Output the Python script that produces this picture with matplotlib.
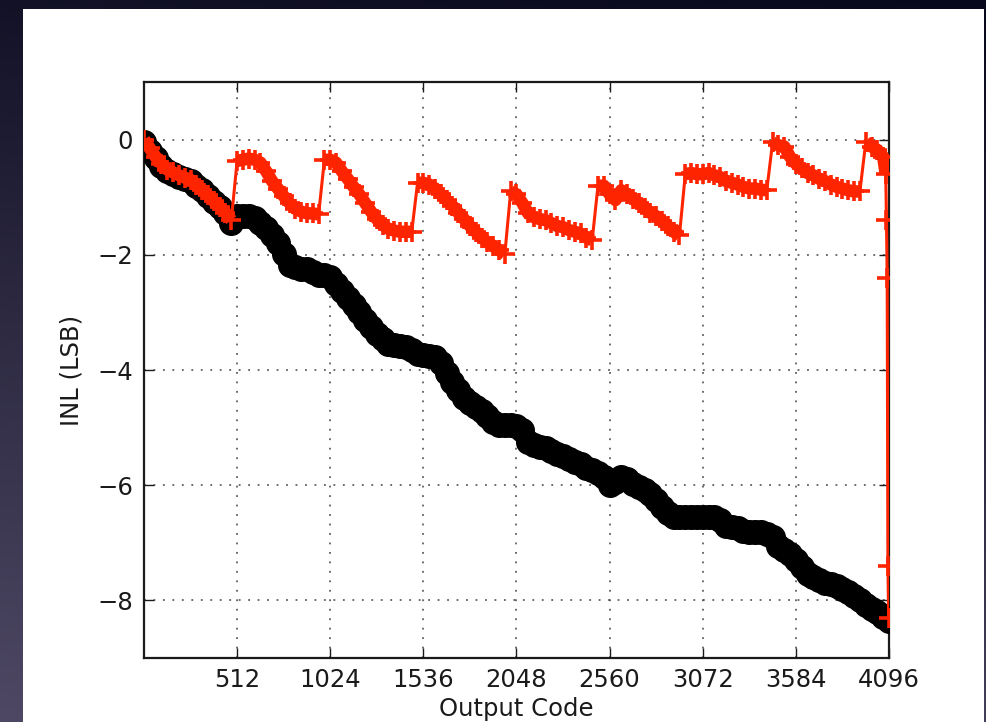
import numpy as np
import matplotlib
matplotlib.use("Agg")
import matplotlib.pyplot as plt
from matplotlib.patches import Rectangle

# ---- data ----
codes = list(range(0, 4097, 32))

black_inl = [
    -0.05, -0.2, -0.32, -0.45, -0.55, -0.6, -0.65, -0.68, -0.72, -0.8,
    -0.88, -0.98, -1.08, -1.17, -1.28, -1.45, -1.33, -1.32, -1.33, -1.36,
    -1.45, -1.53, -1.65, -1.8, -1.98, -2.18, -2.22, -2.24, -2.25, -2.3,
    -2.35, -2.35, -2.38, -2.5, -2.62, -2.75, -2.87, -3.0, -3.13, -3.25,
    -3.37, -3.47, -3.55, -3.57, -3.58, -3.6, -3.66, -3.72, -3.74, -3.75,
    -3.78, -3.88, -4.05, -4.2, -4.35, -4.48, -4.58, -4.65, -4.72, -4.8,
    -4.9, -4.95, -4.95, -4.96, -4.97, -5.05, -5.25, -5.3, -5.33, -5.35,
    -5.4, -5.45, -5.5, -5.55, -5.6, -5.64, -5.7, -5.74, -5.78, -5.85,
    -6.0, -5.95, -5.86, -5.9, -5.98, -6.03, -6.08, -6.15, -6.25, -6.38,
    -6.48, -6.55, -6.55, -6.55, -6.55, -6.55, -6.55, -6.55, -6.56, -6.6,
    -6.7, -6.72, -6.74, -6.8, -6.82, -6.82, -6.82, -6.84, -6.9, -7.05,
    -7.12, -7.2, -7.3, -7.42, -7.55, -7.6, -7.65, -7.7, -7.72, -7.75,
    -7.8, -7.86, -7.92, -8.0, -8.08, -8.15, -8.2, -8.28, -8.35,
]

red_inl = [
    0.0, -0.15, -0.3, -0.42, -0.52, -0.57, -0.62, -0.66, -0.7, -0.78,
    -0.87, -0.97, -1.07, -1.17, -1.27, -1.4, -0.37, -0.35, -0.33, -0.35,
    -0.4, -0.55, -0.72, -0.85, -0.98, -1.1, -1.2, -1.25, -1.28, -1.28,
    -1.3, -0.35, -0.35, -0.4, -0.55, -0.68, -0.82, -0.95, -1.1, -1.25,
    -1.38, -1.48, -1.55, -1.58, -1.6, -1.6, -1.6, -0.75, -0.75, -0.78,
    -0.85, -0.95, -1.05, -1.15, -1.27, -1.38, -1.5, -1.6, -1.7, -1.78,
    -1.85, -1.92, -1.98, -0.9, -0.95, -1.1, -1.28, -1.35, -1.38, -1.4,
    -1.45, -1.5, -1.52, -1.57, -1.6, -1.63, -1.7, -1.75, -0.8, -0.8,
    -0.95, -1.05, -0.88, -0.95, -1.03, -1.1, -1.18, -1.27, -1.33, -1.42,
    -1.5, -1.6, -1.66, -0.6, -0.58, -0.6, -0.6, -0.58, -0.62, -0.65,
    -0.72, -0.75, -0.78, -0.82, -0.85, -0.85, -0.87, -0.88, -0.05, -0.1,
    -0.12, -0.3, -0.42, -0.5, -0.58, -0.62, -0.68, -0.72, -0.78, -0.82,
    -0.85, -0.88, -0.9, -0.9, -0.05, -0.12, -0.18, -0.3,
]
red_tail_codes = [4078, 4082, 4086, 4090, 4094]
red_tail_inl = [-0.6, -1.4, -2.4, -7.4, -8.3]

x_ticks = [512, 1024, 1536, 2048, 2560, 3072, 3584, 4096]
y_ticks = [-8, -6, -4, -2, 0]

red_codes = codes[:-1] + red_tail_codes
red_all = red_inl + red_tail_inl

# ---- figure ----
W, H = 987, 722
fig = plt.figure(figsize=(W / 100, H / 100), dpi=100)

# dark gradient backdrop
bg = fig.add_axes([0, 0, 1, 1], zorder=-10)
yy = np.linspace(0, 1, 200)[:, None]
xx = np.linspace(0, 1, 200)[None, :]
top = np.array([8, 8, 28]) / 255.0
bot = np.array([78, 72, 100]) / 255.0
t = (yy * 0.85 + (1 - xx) * 0.15)
grad = top[None, None, :] * (1 - t[..., None]) + bot[None, None, :] * t[..., None]
bg.imshow(grad, aspect="auto", extent=[0, 1, 0, 1], origin="upper")
bg.add_patch(Rectangle((23 / W, 0), (984 - 23) / W, 1 - 9 / H,
                       transform=bg.transAxes, facecolor="white", edgecolor="none"))
bg.set_xlim(0, 1)
bg.set_ylim(0, 1)
bg.axis("off")

ax = fig.add_axes([144 / W, 1 - 658 / H, (889 - 144) / W, (658 - 82) / H])

red = "#ff2400"
ax.plot(codes, black_inl, color="black", marker="o", markersize=17,
        linestyle="-", linewidth=8, markeredgecolor="black", zorder=3)

# thin trace everywhere (shows the jumps as thin lines)
ax.plot(red_codes, red_all, color=red, linestyle="-", linewidth=2.2, zorder=4)
# thick band along the trace, broken at the big jumps
rx = np.asarray(red_codes, dtype=float)
ry = np.asarray(red_all, dtype=float)
breaks = np.where(np.abs(np.diff(ry)) > 0.5)[0] + 1
bx = np.insert(rx, breaks, np.nan)
by = np.insert(ry, breaks, np.nan)
ax.plot(bx, by, color=red, linestyle="-", linewidth=9, solid_capstyle="butt",
        zorder=4)
ax.plot(red_codes, red_all, color=red, marker="+", markersize=15,
        markeredgewidth=2.6, linestyle="none", zorder=5)

ax.set_xlim(0, 4096)
ax.set_ylim(-9, 1)
ax.set_xticks(x_ticks)
ax.set_yticks(y_ticks)
ax.grid(True, color="#444444", linestyle=(0, (1.2, 5)), linewidth=1.1)
ax.set_axisbelow(True)

ax.tick_params(direction="in", length=7, width=1.0, top=True, right=True,
               labelsize=17.5, colors="#1a1a1a")
ax.tick_params(axis="x", pad=7)
ax.tick_params(axis="y", pad=8)
for s in ax.spines.values():
    s.set_linewidth(1.6)
    s.set_color("#1a1a1a")

ax.set_xlabel("Output Code", fontsize=17.5, color="#1a1a1a")
ax.set_ylabel("INL (LSB)", fontsize=17.5, color="#1a1a1a")
ax.xaxis.set_label_coords(0.5, -(697 - 658) / (658 - 82))
ax.yaxis.set_label_coords(-(144 - 84) / (889 - 144), 0.5)

fig.savefig("out.png", dpi=100, facecolor="black")
